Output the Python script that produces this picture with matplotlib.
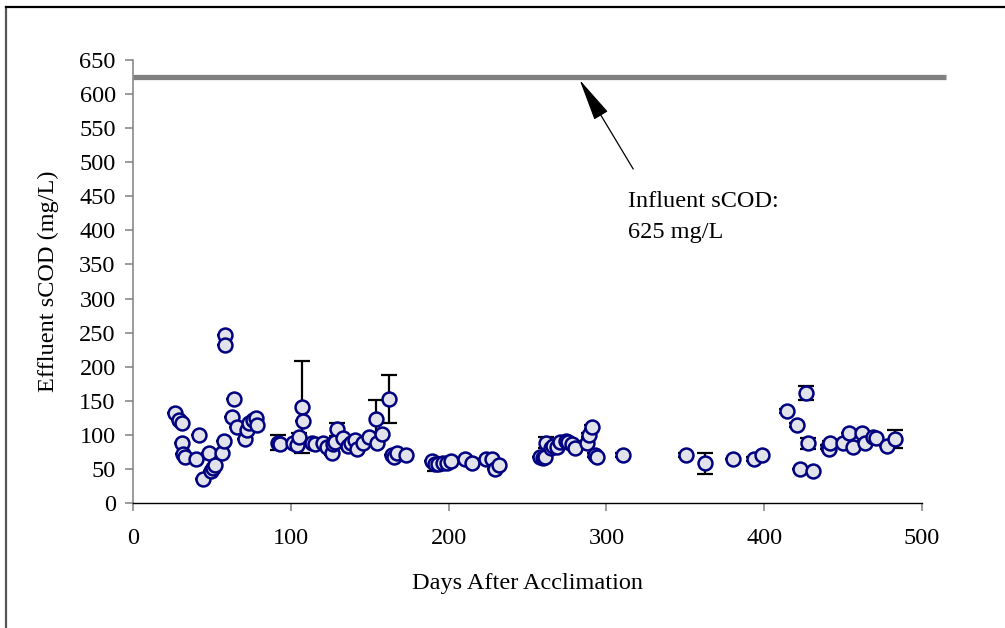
import matplotlib.pyplot as plt
from matplotlib.lines import Line2D

# veriler (grafikten okunan yaklasik degerler)
days = [26.8, 29.4, 30.8, 30.8, 31.9, 33.2, 39.7, 42.0, 44.6, 48.2,
        49.6, 50.9, 52.2, 56.2, 57.5, 58.5, 58.5, 63.8, 62.5, 65.9,
        71.2, 72.4, 73.7, 76.2, 77.7, 78.8, 92.1, 93.2, 101.6, 103.7,
        105.4, 106.9, 108.0, 113.2, 115.3, 120.6, 122.7, 125.9, 126.9, 128.0,
        129.5, 133.3, 136.0, 138.0, 140.7, 141.8, 145.6, 149.6, 153.8, 154.8,
        157.6, 162.5, 163.9, 165.4, 167.5, 172.8, 189.3, 191.4, 193.5, 196.2,
        198.8, 201.5, 210.4, 214.6, 224.0, 227.3, 229.4, 232.1, 257.9, 260.0,
        261.0, 261.5, 264.7, 266.4, 268.9, 270.6, 274.4, 275.9, 278.0, 280.1,
        287.5, 288.8, 290.7, 292.8, 294.2, 310.7, 350.2, 362.5, 380.4, 393.5,
        398.4, 414.6, 421.0, 423.0, 426.3, 427.5, 431.1, 440.6, 441.2, 441.7,
        450.1, 453.9, 456.5, 461.8, 463.9, 469.2, 470.7, 478.0, 482.9]
scod = [131.6, 121.8, 117.8, 87.6, 71.9, 68.0, 64.5, 99.8, 35.2, 72.9,
        47.4, 50.9, 55.7, 72.9, 91.0, 246.5, 231.3, 152.0, 125.7, 111.0,
        93.4, 107.0, 117.0, 121.8, 124.0, 114.0, 88.5, 86.6, 87.6, 85.0,
        97.3, 140.4, 120.7, 87.6, 86.6, 87.6, 82.6, 73.8, 86.6, 90.0,
        108.0, 95.0, 83.6, 88.5, 92.4, 78.8, 87.6, 97.3, 123.0, 87.6,
        100.8, 152.6, 70.4, 68.0, 73.8, 70.4, 62.0, 57.2, 57.2, 58.2,
        59.1, 61.6, 64.1, 58.2, 64.0, 64.0, 49.4, 55.7, 68.0, 65.5,
        67.0, 88.5, 80.2, 83.6, 82.6, 90.0, 91.4, 90.0, 86.6, 80.2,
        87.6, 99.3, 111.0, 70.4, 68.0, 70.4, 70.4, 58.2, 64.0, 64.0,
        70.4, 135.5, 114.0, 49.9, 161.0, 87.6, 47.0, 81.7, 78.8, 88.5,
        87.6, 103.0, 82.6, 103.0, 87.6, 97.3, 95.0, 84.0, 94.0]
hata = [0, 0, 0, 0, 0, 0, 0, 0, 0, 0,
        0, 0, 0, 0, 0, 0, 0, 0, 0, 0,
        0, 0, 0, 0, 0, 0, 11, 3, 0, 0,
        5, 67.5, 0, 3, 0, 0, 0, 3, 0, 0,
        9, 0, 3, 0, 0, 0, 0, 0, 28, 0,
        3, 35.5, 0, 0, 3, 3, 0, 10, 0, 0,
        0, 0, 0, 3, 0, 0, 0, 3, 0, 3,
        0, 8, 0, 0, 0, 3, 0, 3, 3, 3,
        3, 3, 3, 3, 3, 3, 3, 15, 0, 3,
        3, 3, 3, 0, 10, 8.5, 3, 3, 0, 3,
        0, 0, 3, 0, 3, 3, 0, 0, 13]
influent = 625

plt.rcParams['font.family'] = ['Liberation Serif', 'DejaVu Serif']

fig = plt.figure(figsize=(10.05, 6.28), dpi=100)
ax = fig.add_axes([133/1005, 1 - 503/628, 789/1005, 443/628])

# giris sCOD cizgisi
ax.plot([0, 515], [influent, influent], color='#808080', lw=3.8,
        solid_capstyle='butt', clip_on=False, zorder=1)

# hata cubuklari ve noktalar
ax.errorbar(days, scod, yerr=hata, fmt='none', ecolor='black', elinewidth=1.6,
            capsize=5.5, capthick=1.6, zorder=2)
ax.plot(days, scod, 'o', ms=10, mfc='#E2E2EA', mec='#000080', mew=1.8, zorder=3)

ax.set_xlim(0, 500)
ax.set_ylim(0, 650)
ax.set_xticks(range(0, 501, 100))
ax.set_yticks(range(0, 651, 50))

ax.spines['top'].set_visible(False)
ax.spines['right'].set_visible(False)
ax.spines['left'].set_color('#808080')
ax.spines['left'].set_linewidth(1.1)
ax.spines['bottom'].set_color('black')
ax.spines['bottom'].set_linewidth(1.0)
ax.tick_params(axis='y', direction='out', length=5.5, width=1.1, color='#808080',
               labelsize=17.5, pad=7)
ax.tick_params(axis='x', direction='out', length=6, width=1.1, color='#808080',
               labelsize=17.5, pad=12)

# ok ve aciklama
ax.annotate('', xy=(283, 621), xytext=(317, 490),
            arrowprops=dict(arrowstyle='-|>,head_length=2.7,head_width=0.5',
                            color='black', lw=0.9, shrinkA=0, shrinkB=0))
ax.text(313.5, 458, 'Influent sCOD:\n625 mg/L', fontsize=17.5, ha='left', va='top',
        linespacing=1.65)

fig.text(48/1005, 1 - 281/628, 'Effluent sCOD (mg/L)', rotation=90, fontsize=17.5,
         ha='center', va='center')
fig.text(527/1005, 1 - 583/628, 'Days After Acclimation', fontsize=17.5,
         ha='center', va='center')

# dis cerceve (sol ve ust kenar)
fig.add_artist(Line2D([5.5/1005, 5.5/1005], [0, 1 - 7/628], color='#555555', lw=1.6))
fig.add_artist(Line2D([5.5/1005, 1], [1 - 7/628, 1 - 7/628], color='black', lw=1.6))

fig.savefig('out.png', dpi=100)
